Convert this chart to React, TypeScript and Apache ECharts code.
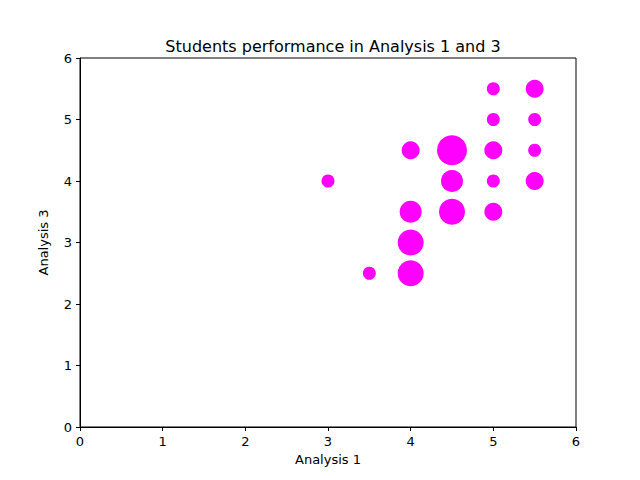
import { useEffect, useRef } from "react";
import * as echarts from "echarts";

// Analysis 1 score, Analysis 3 score, marker diameter (px)
const analysis1 = [3, 3.5, 4, 4, 4, 4, 4.5, 4.5, 4.5, 5, 5, 5, 5, 5, 5.5, 5.5, 5.5, 5.5];
const analysis3 = [4, 2.5, 2.5, 3, 3.5, 4.5, 3.5, 4, 4.5, 3.5, 4, 4.5, 5, 5.5, 4, 4.5, 5, 5.5];
const markerSizes = [13, 13, 26, 26, 22, 18, 26, 22, 30, 18, 13, 18, 13, 13, 18, 13, 13, 18];
const tickLabels = ["0", "1", "2", "3", "4", "5", "6"];

export default function App() {
  const chartRef = useRef<HTMLDivElement>(null);

  useEffect(() => {
    document.body.style.margin = "0";
    if (!chartRef.current) return;
    const chart = echarts.init(chartRef.current, null, { renderer: "svg" });

    const points = analysis1.map((x, i) => [x, analysis3[i], markerSizes[i]]);
    const axisCommon = {
      type: "value",
      min: 0,
      max: 6,
      interval: 1,
      nameLocation: "middle",
      nameTextStyle: { color: "#000", fontSize: 13 },
      axisLine: { show: true, lineStyle: { color: "#000" } },
      axisTick: { show: true, length: 4, lineStyle: { color: "#000" } },
      axisLabel: {
        color: "#000",
        fontSize: 13,
        formatter: (v: number) => tickLabels[v] ?? String(v),
      },
      splitLine: { show: false },
    };

    chart.setOption({
      animation: false,
      textStyle: { fontFamily: "DejaVu Sans" },
      title: {
        text: "Students performance in Analysis 1 and 3",
        left: 328,
        top: 33,
        textAlign: "center",
        textStyle: { fontSize: 16, fontWeight: "normal", color: "#000" },
      },
      grid: { left: 80, right: 64, top: 58, bottom: 53, show: true, borderColor: "#000", borderWidth: 1 },
      xAxis: { ...axisCommon, name: "Analysis 1", nameGap: 26, axisLine: { show: true, onZero: false, lineStyle: { color: "#000" } } },
      yAxis: { ...axisCommon, name: "Analysis 3", nameGap: 30, axisLine: { show: true, onZero: false, lineStyle: { color: "#000" } } },
      series: [
        {
          type: "scatter",
          data: points,
          symbolSize: (d: number[]) => d[2],
          itemStyle: { color: "#ff00ff", opacity: 1 },
        },
      ],
    });

    return () => chart.dispose();
  }, []);

  return <div ref={chartRef} style={{ width: 640, height: 480 }} />;
}
